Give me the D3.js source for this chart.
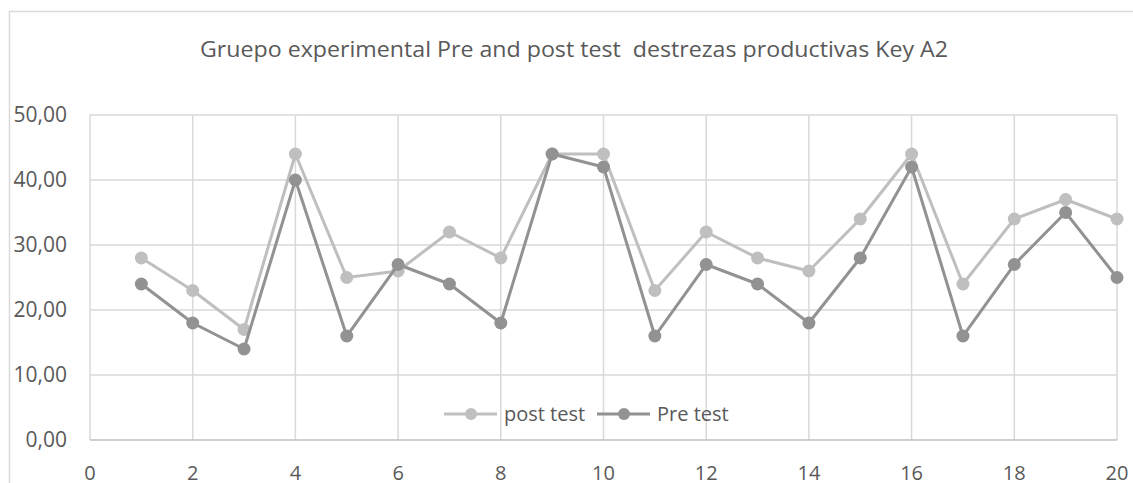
<!DOCTYPE html>
<html>
<head>
<meta charset="utf-8">
<script src="https://cdn.jsdelivr.net/npm/d3@7"></script>
<style>
  body { margin: 0; background: #fff; }
  text { font-family: "Open Sans", sans-serif; fill: #595959; }
</style>
</head>
<body>
<div id="chart"></div>
<script>
// Data
const students = d3.range(1, 21);
const postTest = [28, 23, 17, 44, 25, 26, 32, 28, 44, 44, 23, 32, 28, 26, 34, 44, 24, 34, 37, 34];
const preTest = [24, 18, 14, 40, 16, 27, 24, 18, 44, 42, 16, 27, 24, 18, 28, 42, 16, 27, 35, 25];
const xTicks = [0, 2, 4, 6, 8, 10, 12, 14, 16, 18, 20];
const yTicks = [0, 10, 20, 30, 40, 50];
const seriesNames = ['post test', 'Pre test'];
const seriesColors = ['#bfbfbf', '#929292'];

const W = 1133;
const H = 483;

const svg = d3.select('#chart')
    .append('svg')
    .attr('width', W)
    .attr('height', H);

// chart area border (only top/left visible)
svg.append('rect')
    .attr('x', 9.5)
    .attr('y', 11.5)
    .attr('width', W + 20)
    .attr('height', H + 20)
    .attr('fill', 'none')
    .attr('stroke', '#d9d9d9')
    .attr('stroke-width', 1.5);

const x = d3.scaleLinear().domain([0, 20]).range([90, 1117]);
const y = d3.scaleLinear().domain([0, 50]).range([440, 115]);

// Title
svg.append('text')
    .attr('x', 574)
    .attr('y', 57)
    .attr('text-anchor', 'middle')
    .attr('font-size', '21px')
    .attr('textLength', 748)
    .attr('lengthAdjust', 'spacingAndGlyphs')
    .attr('xml:space', 'preserve')
    .style('white-space', 'pre')
    .text('Gruepo experimental Pre and post test  destrezas productivas Key A2');

// Gridlines
svg.append('g')
    .selectAll('line')
    .data(yTicks.slice(1))
    .join('line')
    .attr('x1', x(0))
    .attr('x2', x(20))
    .attr('y1', d => y(d))
    .attr('y2', d => y(d))
    .attr('stroke', '#d9d9d9')
    .attr('stroke-width', 1.5);

svg.append('g')
    .selectAll('line')
    .data(xTicks)
    .join('line')
    .attr('x1', d => x(d))
    .attr('x2', d => x(d))
    .attr('y1', y(0))
    .attr('y2', y(50))
    .attr('stroke', '#d9d9d9')
    .attr('stroke-width', 1.5);

// Bottom axis line
svg.append('line')
    .attr('x1', x(0))
    .attr('x2', x(20))
    .attr('y1', y(0))
    .attr('y2', y(0))
    .attr('stroke', '#bfbfbf')
    .attr('stroke-width', 1.5);

// Axis labels
const fmt = d => d3.format('.2f')(d).replace('.', ',');

svg.append('g')
    .selectAll('text')
    .data(yTicks)
    .join('text')
    .attr('x', 67)
    .attr('y', d => y(d))
    .attr('dy', '0.35em')
    .attr('text-anchor', 'end')
    .attr('font-size', '21px')
    .text(fmt);

svg.append('g')
    .selectAll('text')
    .data(xTicks)
    .join('text')
    .attr('x', d => x(d))
    .attr('y', 480)
    .attr('text-anchor', 'middle')
    .attr('font-size', '20px')
    .text(d => d);

// Series
const line = d3.line()
    .x((d, i) => x(students[i]))
    .y(d => y(d));

[postTest, preTest].forEach((values, k) => {
    const g = svg.append('g');
    g.append('path')
        .datum(values)
        .attr('d', line)
        .attr('fill', 'none')
        .attr('stroke', seriesColors[k])
        .attr('stroke-width', 3)
        .attr('stroke-linejoin', 'round');
    g.selectAll('circle')
        .data(values)
        .join('circle')
        .attr('cx', (d, i) => x(students[i]))
        .attr('cy', d => y(d))
        .attr('r', 6.5)
        .attr('fill', seriesColors[k]);
});

// Legend
const legendX = [444, 597];
const legend = svg.append('g');
seriesNames.forEach((name, k) => {
    const lx = legendX[k];
    legend.append('line')
        .attr('x1', lx)
        .attr('x2', lx + 53)
        .attr('y1', 414)
        .attr('y2', 414)
        .attr('stroke', seriesColors[k])
        .attr('stroke-width', 3);
    legend.append('circle')
        .attr('cx', lx + 27)
        .attr('cy', 414)
        .attr('r', 6)
        .attr('fill', seriesColors[k]);
    legend.append('text')
        .attr('x', lx + 60)
        .attr('y', 414)
        .attr('dy', '0.35em')
        .attr('font-size', '20px')
        .text(name);
});
</script>
</body>
</html>
